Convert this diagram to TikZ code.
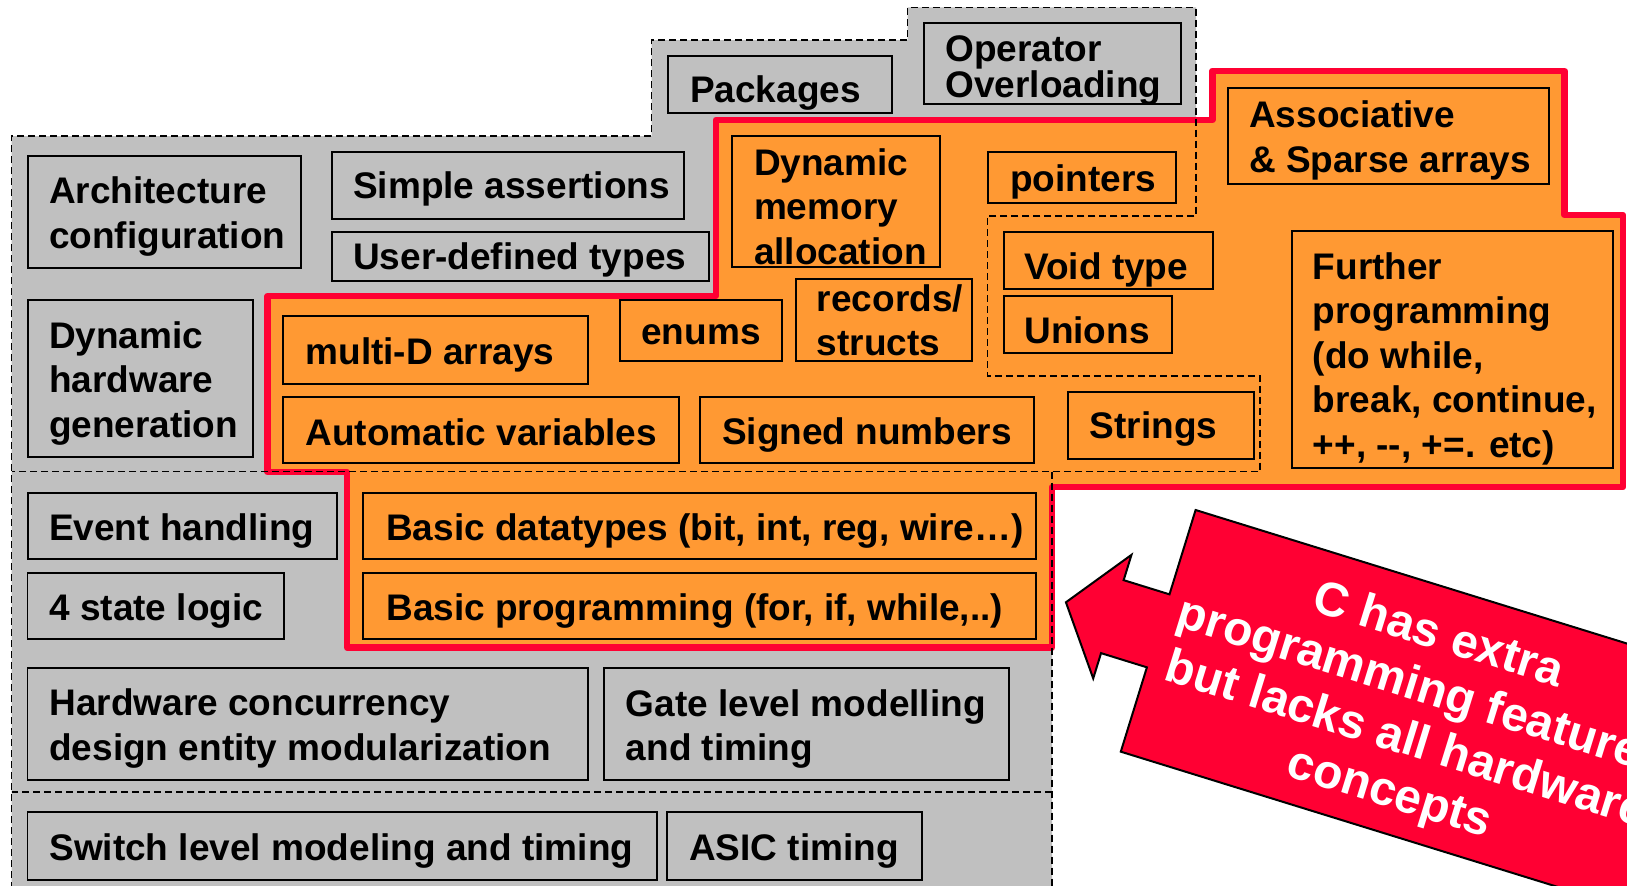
\documentclass[tikz,border=0pt]{standalone}
\usepackage{fontspec}
\setmainfont{Liberation Sans}
\definecolor{vgrey}{HTML}{C0C0C0}
\definecolor{vorange}{HTML}{FF9933}
\definecolor{cred}{HTML}{FF0033}
\newcommand\boxfont{\fontsize{21.06pt}{25.32pt}\selectfont\bfseries}
\newcommand\tightfont{\fontsize{21.06pt}{20.3pt}\selectfont\bfseries}
\newcommand\claimfont{\fontsize{27.3pt}{31.3pt}\selectfont\bfseries}
\begin{document}
\begin{tikzpicture}[x=0.02cm, y=-0.02cm,
  greybox/.style={fill=vgrey, draw=black, line width=0.04cm},
  orangebox/.style={fill=vorange, draw=black, line width=0.04cm},
  % labels are placed by the baseline of their last line
  lbl/.style={anchor=base west, inner sep=0pt, align=left, font=\boxfont},
  region/.style={draw=black, line width=0.03cm, dash pattern=on 0.14cm off 0.08cm},
  redline/.style={draw=cred, line width=0.13cm, line join=round},
  arrowshape/.style={fill=cred, draw=black, line width=0.04cm, line join=miter},
  claimtext/.style={text=white, align=center, inner sep=0pt, font=\claimfont}]
\useasboundingbox (0,0) rectangle (1627,886);
\clip (0,0) rectangle (1627,886);

% Verilog area (grey) and C area (orange)
\fill[vgrey] (11.5,136) -- (651.5,136) -- (651.5,40) -- (907.7,40) -- (907.7,7.3)
  -- (1196,7.3) -- (1196,487) -- (1052,487) -- (1052,900) -- (11.5,900) -- cycle;
\fill[vorange] (267.6,296) -- (715.8,296) -- (715.8,120) -- (1212.3,120) -- (1212.3,71)
  -- (1564.5,71) -- (1564.5,215) -- (1623,215) -- (1623,487) -- (1052,487)
  -- (1052,647.5) -- (347,647.5) -- (347,472) -- (267.6,472) -- cycle;
\draw[redline] (267.6,296) -- (715.8,296) -- (715.8,120) -- (1212.3,120) -- (1212.3,71)
  -- (1564.5,71) -- (1564.5,215) -- (1623,215) -- (1623,487) -- (1052,487)
  -- (1052,647.5) -- (347,647.5) -- (347,472) -- (267.6,472) -- cycle;

% language borders
\draw[region] (11.5,900) -- (11.5,136) -- (651.5,136) -- (651.5,40) -- (907.7,40)
  -- (907.7,7.3) -- (1196,7.3) -- (1196,216) -- (987.6,216) -- (987.6,376)
  -- (1260,376) -- (1260,471.7) -- (11.5,471.7);
\draw[region] (1052,471.7) -- (1052,900);
\draw[region] (11.5,792) -- (1052,792);

% grey features
\path[greybox] (668,55.7) rectangle (892,113.3);
\node[lbl] (pkg) at (689.8,102.3) {Packages};
\path[greybox] (924,23.3) rectangle (1180.5,104.3);
\node[lbl, font=\tightfont] (opov) at (945.2,97.5) {Operator\\Overloading};
\path[greybox] (27.8,156) rectangle (300.7,268.3);
\node[lbl] (arch) at (48.7,248) {Architecture\\configuration};
\path[greybox] (332,151.7) rectangle (684.2,219);
\node[lbl] (simp) at (352.8,198.3) {Simple assertions};
\path[greybox] (332,231.5) rectangle (708.5,280.5);
\node[lbl] (udt) at (352.8,269.3) {User-defined types};
\path[greybox] (27.8,300) rectangle (252.7,456.7);
\node[lbl] (dhw) at (48.7,437) {Dynamic\\hardware\\generation};
\path[greybox] (27.8,492.5) rectangle (336.5,559.3);
\node[lbl] (evt) at (48.7,540) {Event handling};
\path[greybox] (27.5,572.5) rectangle (284,639.3);
\node[lbl] (fsl) at (49,620) {4 state logic};
\path[greybox] (27.5,668) rectangle (588,780);
\node[lbl] (hwc) at (49,760.3) {Hardware concurrency\\design entity modularization};
\path[greybox] (603.6,668) rectangle (1009.2,780);
\node[lbl] (gate) at (625.5,760.8) {Gate level modelling\\and timing};
\path[greybox] (27.5,812.2) rectangle (656.6,879.6);
\node[lbl] (swl) at (49,860) {Switch level modeling and timing};
\path[greybox] (667.2,812.2) rectangle (921.6,879.6);
\node[lbl] (asic) at (688.7,860) {ASIC timing};

% orange features
\path[orangebox] (731.8,135.7) rectangle (940.3,266.7);
\node[lbl] (dma) at (753.7,264.3) {Dynamic\\memory\\allocation};
\path[orangebox] (988,151.7) rectangle (1176,202.5);
\node[lbl] (ptr) at (1010,191) {pointers};
\path[orangebox] (1227.8,87.7) rectangle (1548.8,184.2);
\node[lbl] (assoc) at (1248.8,172.3) {Associative\\\& Sparse arrays};
\path[orangebox] (1003.6,232.3) rectangle (1213,289);
\node[lbl] (void) at (1024,279.7) {Void type};
\path[orangebox] (1003.6,295.5) rectangle (1172,353.3);
\node[lbl] (unions) at (1024,343.7) {Unions};
\path[orangebox] (795.8,279.3) rectangle (972.2,360.5);
\node[lbl] (rec) at (816.6,355.5) {records/\\structs};
\path[orangebox] (619.6,300) rectangle (781.5,360.7);
\node[lbl] (enums) at (641,344.3) {enums};
\path[orangebox] (283.3,316) rectangle (588.3,384);
\node[lbl] (mda) at (305.2,364.3) {multi-D arrays};
\path[orangebox] (283.3,396.7) rectangle (679.3,463.3);
\node[lbl] (autov) at (305.2,445) {Automatic variables};
\path[orangebox] (699.5,396.7) rectangle (1033.5,463.3);
\node[lbl] (sgn) at (721.7,444.3) {Signed numbers};
\path[orangebox] (1067.8,391.7) rectangle (1253.8,458.8);
\node[lbl] (str) at (1089.6,438.7) {Strings};
\path[orangebox] (1291.6,231) rectangle (1612.6,467.7);
\node[lbl] (fur) at (1312.5,457) {Further\\programming\\(do while,\\break, continue,\\++, -{}-, +=. etc)};
\path[orangebox] (363.2,492.5) rectangle (1036.3,559.3);
\node[lbl] (bdt) at (385.8,540) {Basic datatypes (bit, int, reg, wire…)};
\path[orangebox] (363.2,572.7) rectangle (1036.3,639.3);
\node[lbl] (bpr) at (386,620) {Basic programming (for, if, while,..)};

% callout arrow
\begin{scope}[shift={(1195.6,510)}, rotate=-17.2]
  \path[arrowshape] (0,0) -- (760,0) -- (760,253) -- (0,253) -- (0,164.7) -- (-48,164.7)
    -- (-48,191.2) -- (-96.6,126.5) -- (-48,61.8) -- (-48,88.3) -- (0,88.3) -- cycle;
  \node[claimtext, transform shape] (claim) at (269,132)
    {C has extra\\programming features\\but lacks all hardware\\concepts};
\end{scope}
\end{tikzpicture}
\end{document}
